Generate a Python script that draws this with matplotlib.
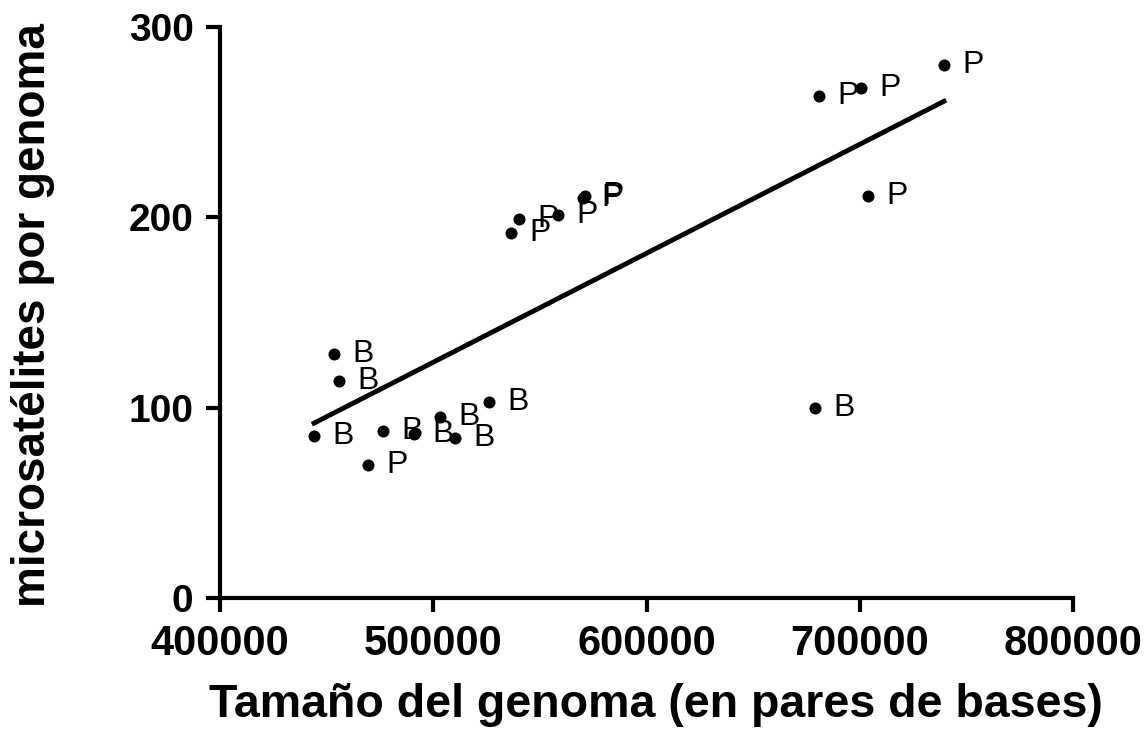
import matplotlib.pyplot as plt
import numpy as np

plt.rcParams['font.family'] = ['Liberation Sans', 'DejaVu Sans']

# genome size (bp), microsatellites per genome, group label
genomeSize = [453500, 455800, 444100, 476400, 491000, 503200, 510200, 526100,
              469400, 679000,
              536500, 540200, 558500, 570200, 571000,
              680900, 700600, 739500, 703900]
microsats = [128, 114, 85, 88, 86, 95, 84, 103,
             70, 100,
             192, 199, 201, 210, 211,
             264, 268, 280, 211]
groups = ["B", "B", "B", "B", "B", "B", "B", "B",
          "P", "B",
          "P", "P", "P", "P", "P",
          "P", "P", "P", "P"]

xTicks = [400000, 500000, 600000, 700000, 800000]
yTicks = [0, 100, 200, 300]


def Main():
    fig = plt.figure(figsize=(11.47, 7.36), dpi=100)
    ax = fig.add_axes([0.1918, 0.1875, 0.7437, 0.7758])

    x = np.array(genomeSize, dtype=float)
    y = np.array(microsats, dtype=float)

    ax.scatter(x, y, s=75, color="black", zorder=3, linewidths=0)
    for xi, yi, g in zip(x, y, groups):
        ax.annotate(g, (xi, yi), xytext=(13, 0), textcoords="offset points",
                    ha="left", va="center", fontsize=23)

    # linear regression line over the data range
    slope, intercept = np.polyfit(x, y, 1)
    xs = np.array([x.min(), x.max()])
    ax.plot(xs, slope * xs + intercept, color="black", linewidth=3.5)

    ax.set_xlim(400000, 800000)
    ax.set_ylim(0, 300)
    ax.set_xticks(xTicks)
    ax.set_yticks(yTicks)
    ax.set_xticklabels([str(t) for t in xTicks], fontsize=30, fontweight="bold")
    ax.set_yticklabels([str(t) for t in yTicks], fontsize=28, fontweight="bold")

    for side in ["top", "right"]:
        ax.spines[side].set_visible(False)
    for side in ["left", "bottom"]:
        ax.spines[side].set_linewidth(3)
    ax.tick_params(width=3, length=10)
    ax.tick_params(axis="x", pad=9)
    ax.tick_params(axis="y", pad=9)

    ax.set_xlabel("Tamaño del genoma (en pares de bases)", fontsize=33.5,
                  fontweight="bold")
    ax.set_ylabel("microsatélites por genoma", fontsize=33,
                  fontweight="bold")
    ax.xaxis.set_label_coords(0.511, -0.148)
    ax.yaxis.set_label_coords(-0.193, 0.495)

    fig.savefig("out.png", dpi=100)


Main()
